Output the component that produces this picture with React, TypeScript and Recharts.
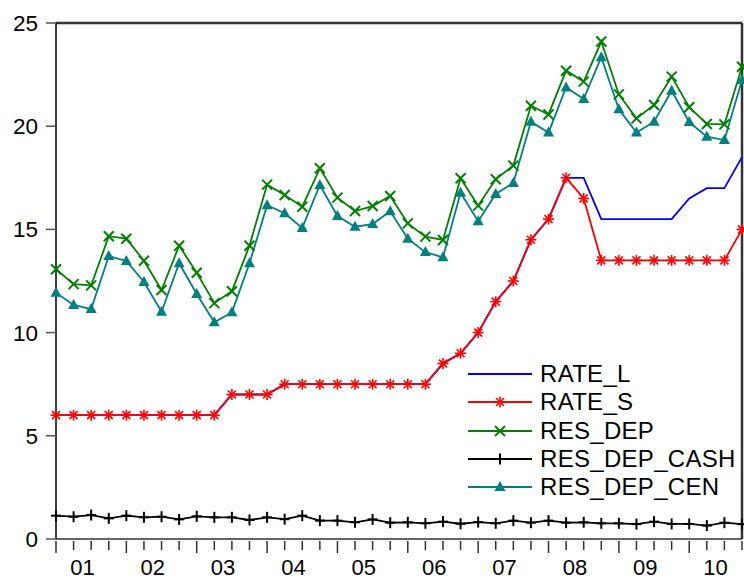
import React from "react";
import { LineChart, Line, XAxis, YAxis, ReferenceLine, Legend } from "recharts";

// quarterly observations, 2001Q1 .. 2010Q4
const yearLabels = ["01", "02", "03", "04", "05", "06", "07", "08", "09", "10"];

const rateL = [
  6, 6, 6, 6, 6, 6, 6, 6, 6, 6, 7, 7, 7, 7.5, 7.5, 7.5, 7.5, 7.5, 7.5, 7.5,
  7.5, 7.5, 8.5, 9, 10, 11.5, 12.5, 14.5, 15.5, 17.5, 17.5, 15.5, 15.5, 15.5,
  15.5, 15.5, 16.5, 17, 17, 18.5,
];
const rateS = [
  6, 6, 6, 6, 6, 6, 6, 6, 6, 6, 7, 7, 7, 7.5, 7.5, 7.5, 7.5, 7.5, 7.5, 7.5,
  7.5, 7.5, 8.5, 9, 10, 11.5, 12.5, 14.5, 15.5, 17.5, 16.5, 13.5, 13.5, 13.5,
  13.5, 13.5, 13.5, 13.5, 13.5, 15,
];
const resDep = [
  13.07, 12.35, 12.29, 14.67, 14.55, 13.48, 12.06, 14.21, 12.9, 11.43, 12.0,
  14.21, 17.17, 16.67, 16.1, 17.96, 16.54, 15.89, 16.13, 16.62, 15.29, 14.65,
  14.49, 17.48, 16.15, 17.43, 18.09, 20.99, 20.57, 22.69, 22.16, 24.1, 21.54,
  20.38, 21.03, 22.4, 20.92, 20.11, 20.09, 22.88,
];
const resDepCash = [
  1.13, 1.08, 1.16, 1.0, 1.13, 1.05, 1.08, 0.95, 1.1, 1.05, 1.05, 0.92, 1.05,
  0.96, 1.13, 0.89, 0.89, 0.81, 0.95, 0.79, 0.81, 0.76, 0.84, 0.74, 0.82, 0.76,
  0.89, 0.79, 0.89, 0.79, 0.81, 0.76, 0.76, 0.72, 0.84, 0.73, 0.73, 0.65, 0.79,
  0.72,
];
const resDepCen = [
  11.93, 11.34, 11.14, 13.71, 13.47, 12.45, 11.01, 13.36, 11.87, 10.5, 10.98,
  13.36, 16.17, 15.78, 15.07, 17.15, 15.65, 15.13, 15.26, 15.88, 14.55, 13.9,
  13.65, 16.78, 15.39, 16.72, 17.25, 20.22, 19.69, 21.88, 21.32, 23.34, 20.82,
  19.69, 20.22, 21.72, 20.2, 19.49, 19.33, 22.24,
];
const yTicks = [0, 5, 10, 15, 20, 25];

const data = rateL.map((_, t) => ({
  t,
  RATE_L: rateL[t],
  RATE_S: rateS[t],
  RES_DEP: resDep[t],
  RES_DEP_CASH: resDepCash[t],
  RES_DEP_CEN: resDepCen[t],
}));

// integer ticks draw the quarter marks, the .5 ticks carry the year labels
const xTicks = [
  ...data.map((d) => d.t),
  ...yearLabels.map((_, i) => i * 4 + 1.5),
];

const FONT = '"Liberation Sans", Arial, sans-serif';

type MarkProps = { cx: number; cy: number; color: string };

const Star = ({ cx, cy, color }: MarkProps) => (
  <g stroke={color} strokeWidth={1.6}>
    <line x1={cx} y1={cy - 5.5} x2={cx} y2={cy + 5.5} />
    <line x1={cx - 5.5} y1={cy} x2={cx + 5.5} y2={cy} />
    <line x1={cx - 4} y1={cy - 4} x2={cx + 4} y2={cy + 4} />
    <line x1={cx - 4} y1={cy + 4} x2={cx + 4} y2={cy - 4} />
  </g>
);

const Cross = ({ cx, cy, color }: MarkProps) => (
  <g stroke={color} strokeWidth={2}>
    <line x1={cx - 5} y1={cy - 5} x2={cx + 5} y2={cy + 5} />
    <line x1={cx - 5} y1={cy + 5} x2={cx + 5} y2={cy - 5} />
  </g>
);

const Plus = ({ cx, cy, color }: MarkProps) => (
  <g stroke={color} strokeWidth={2}>
    <line x1={cx} y1={cy - 5.5} x2={cx} y2={cy + 5.5} />
    <line x1={cx - 5} y1={cy} x2={cx + 5} y2={cy} />
  </g>
);

const Triangle = ({ cx, cy, color }: MarkProps) => (
  <polygon
    points={`${cx},${cy - 6} ${cx - 5.5},${cy + 4} ${cx + 5.5},${cy + 4}`}
    fill={color}
  />
);

const series = [
  { key: "RATE_L", color: "#0000ff", Mark: null },
  { key: "RATE_S", color: "#ff0000", Mark: Star },
  { key: "RES_DEP", color: "#008000", Mark: Cross },
  { key: "RES_DEP_CASH", color: "#000000", Mark: Plus },
  { key: "RES_DEP_CEN", color: "#008080", Mark: Triangle },
];

const QuarterTick = (props: any) => {
  const { x, y, payload } = props;
  const v = payload.value as number;
  if (Number.isInteger(v)) {
    const len = v % 4 === 0 ? 12 : 9;
    return (
      <line x1={x} x2={x} y1={y} y2={y + len} stroke="#333" strokeWidth={1.5} />
    );
  }
  return (
    <text x={x} y={y + 33.5} textAnchor="middle" fontSize={22} fill="#000" fontFamily={FONT}>
      {yearLabels[Math.floor(v / 4)]}
    </text>
  );
};

const SeriesLegend = () => (
  <div style={{ fontFamily: FONT }}>
    {series.map(({ key, color, Mark }) => (
      <div key={key} style={{ display: "flex", alignItems: "center", height: 28.3 }}>
        <svg width={72} height={28}>
          <line x1={0} y1={14} x2={64} y2={14} stroke={color} strokeWidth={1.8} />
          {Mark && <Mark cx={32} cy={14} color={color} />}
        </svg>
        <span style={{ fontSize: 24, letterSpacing: 0.3, color: "#000", lineHeight: "28px" }}>
          {key}
        </span>
      </div>
    ))}
  </div>
);

export default function App() {
  return (
    <div style={{ position: "absolute", left: 0, top: 0, background: "#fff" }}>
      <LineChart
        width={744}
        height={579}
        data={data}
        margin={{ top: 23, right: 2, bottom: 0, left: 0 }}
      >
        <XAxis
          dataKey="t"
          type="number"
          domain={[0, 39]}
          ticks={xTicks}
          interval={0}
          height={40}
          tickSize={0}
          tickLine={false}
          tick={<QuarterTick />}
          axisLine={{ stroke: "#333", strokeWidth: 1.5 }}
        />
        <YAxis
          type="number"
          domain={[0, 25]}
          ticks={yTicks}
          width={56}
          tickSize={10}
          tickMargin={8}
          tickLine={{ stroke: "#555", strokeWidth: 1.5 }}
          axisLine={{ stroke: "#000", strokeWidth: 1.5 }}
          tick={{ fontSize: 22.5, fill: "#000", fontFamily: FONT }}
        />
        <ReferenceLine y={25} stroke="#333" strokeWidth={2.5} />
        <ReferenceLine x={39} stroke="#333" strokeWidth={2.5} />
        {series.map(({ key, color, Mark }) => (
          <Line
            key={key}
            dataKey={key}
            type="linear"
            stroke={color}
            strokeWidth={1.8}
            isAnimationActive={false}
            activeDot={false}
            dot={
              Mark
                ? (p: any) => (
                    <Mark key={`${key}-${p.index}`} cx={p.cx} cy={p.cy} color={color} />
                  )
                : false
            }
          />
        ))}
        <Legend
          layout="vertical"
          align="center"
          verticalAlign="middle"
          content={<SeriesLegend />}
          wrapperStyle={{ position: "absolute", left: 468, top: 360, width: 276 }}
        />
      </LineChart>
    </div>
  );
}
